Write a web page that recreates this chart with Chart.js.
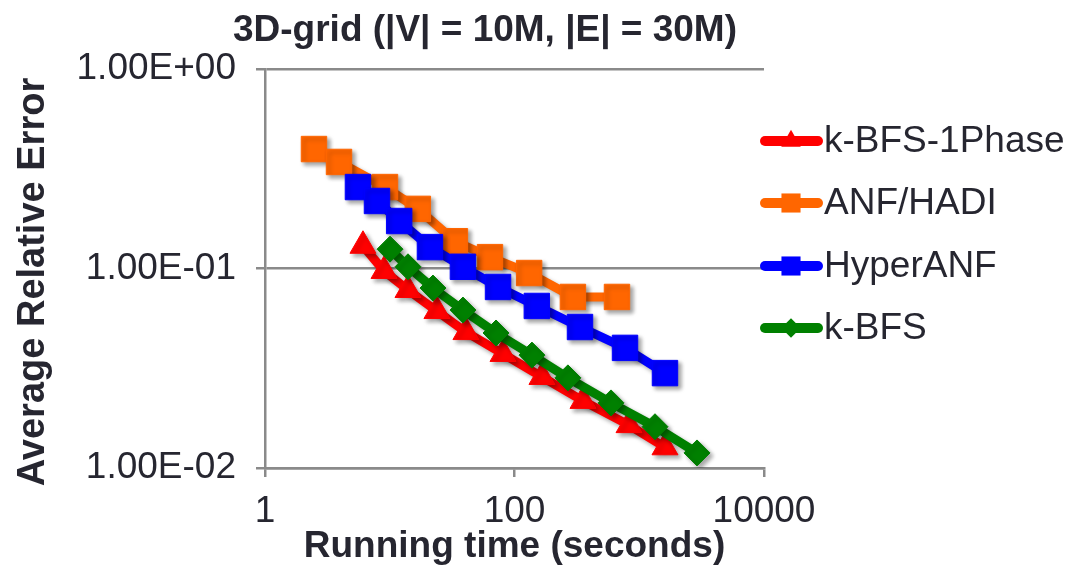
<!DOCTYPE html>
<html>
<head>
<meta charset="utf-8">
<script src="https://cdn.jsdelivr.net/npm/chart.js"></script>
<style>
  body { margin: 0; background: #fff; }
</style>
</head>
<body>
<canvas id="chart" width="1069" height="570"></canvas>
<script>
// values (x = seconds, y = average relative error)
const seriesNames = ['k-BFS-1Phase', 'ANF/HADI', 'HyperANF', 'k-BFS'];

const kbfs1PhaseTime = [6.1, 9.0, 14.0, 23.9, 40.8, 80.9, 166, 354, 828, 1608];
const kbfs1PhaseErr = [0.130, 0.0972, 0.078, 0.0612, 0.048, 0.0373, 0.0286, 0.0217, 0.0164, 0.0127];

const anfTime = [2.47, 3.92, 9.16, 16.8, 33.3, 63.6, 131, 294, 663];
const anfErr = [0.397, 0.342, 0.256, 0.199, 0.137, 0.114, 0.0949, 0.072, 0.072];

const hyperTime = [5.56, 7.9, 11.9, 21.0, 38.6, 73.8, 151, 335, 769, 1608];
const hyperErr = [0.256, 0.218, 0.173, 0.128, 0.102, 0.0808, 0.0649, 0.0509, 0.040, 0.0299];

const kbfsTime = [10.05, 14.0, 22.2, 38.6, 71.1, 138, 268, 594, 1337, 2904];
const kbfsErr = [0.125, 0.102, 0.0798, 0.0619, 0.0475, 0.0368, 0.0283, 0.0212, 0.0161, 0.0119];

const xTicks = [1, 100, 10000];
const xTickLabels = ['1', '100', '10000'];
const yTicks = [0.01, 0.1, 1];
const yTickLabels = ['1.00E-02', '1.00E-01', '1.00E+00'];

const FONT = '"Liberation Sans", Arial, sans-serif';
const TEXT = '#262630';
const GRID = '#8a8a8a';

const colors = ['#ff0000', '#ff6600', '#0000ff', '#008000'];
const styles = ['triangle', 'rect', 'rect', 'rectRot'];
const radii = [15, 18, 18, 13];

function toPoints(xs, ys) {
  return xs.map((x, i) => ({ x: x, y: ys[i] }));
}

const allData = [
  toPoints(kbfs1PhaseTime, kbfs1PhaseErr),
  toPoints(anfTime, anfErr),
  toPoints(hyperTime, hyperErr),
  toPoints(kbfsTime, kbfsErr),
];

// later series sit on top, like the original
const datasets = allData.map((pts, i) => ({
  label: seriesNames[i],
  data: pts,
  showLine: true,
  borderColor: colors[i],
  backgroundColor: colors[i],
  borderWidth: 9,
  pointStyle: styles[i],
  pointRadius: radii[i],
  pointHoverRadius: radii[i],
  pointBorderWidth: 1,
  order: 4 - i,
}));

// soft drop shadow under lines and markers
const shadowPlugin = {
  id: 'shadow',
  beforeDatasetsDraw(chart) {
    const ctx = chart.ctx;
    ctx.save();
    ctx.shadowColor = 'rgba(0,0,0,0.35)';
    ctx.shadowBlur = 4;
    ctx.shadowOffsetX = 3;
    ctx.shadowOffsetY = 3;
  },
  afterDatasetsDraw(chart) {
    chart.ctx.restore();
  }
};

function drawMarker(ctx, style, x, y, r) {
  ctx.beginPath();
  if (style === 'triangle') {
    const h = r * 1.5;
    const w = r * Math.sqrt(3) / 2;
    ctx.moveTo(x, y - h * 2 / 3);
    ctx.lineTo(x + w, y + h / 3);
    ctx.lineTo(x - w, y + h / 3);
    ctx.closePath();
  } else if (style === 'rectRot') {
    ctx.moveTo(x, y - r);
    ctx.lineTo(x + r, y);
    ctx.lineTo(x, y + r);
    ctx.lineTo(x - r, y);
    ctx.closePath();
  } else {
    const s = r * Math.SQRT1_2;
    ctx.rect(x - s, y - s, 2 * s, 2 * s);
  }
  ctx.fill();
}

// title, y-axis title and legend drawn by hand to sit where the original puts them
const decorPlugin = {
  id: 'decor',
  afterDraw(chart) {
    const ctx = chart.ctx;
    ctx.save();
    ctx.fillStyle = TEXT;
    ctx.font = 'bold 37px ' + FONT;
    ctx.textAlign = 'center';
    ctx.textBaseline = 'middle';
    ctx.fillText('3D-grid (|V| = 10M, |E| = 30M)', 485, 31);

    ctx.save();
    ctx.translate(34, 282);
    ctx.rotate(-Math.PI / 2);
    ctx.font = 'bold 38px ' + FONT;
    ctx.fillText('Average Relative Error', 0, 0);
    ctx.restore();

    const rowY = [141, 203, 266, 328];
    seriesNames.forEach((name, i) => {
      const y = rowY[i];
      ctx.strokeStyle = colors[i];
      ctx.fillStyle = colors[i];
      ctx.lineWidth = 10;
      ctx.lineCap = 'round';
      ctx.beginPath();
      ctx.moveTo(765, y);
      ctx.lineTo(818, y);
      ctx.stroke();
      drawMarker(ctx, styles[i], 791, y, radii[i] * 0.75);
      ctx.fillStyle = TEXT;
      ctx.font = '37px ' + FONT;
      ctx.textAlign = 'left';
      ctx.fillText(name, 824, y + 1);
    });
    ctx.restore();
  }
};

new Chart(document.getElementById('chart'), {
  type: 'scatter',
  data: { datasets: datasets },
  options: {
    responsive: false,
    animation: false,
    layout: { padding: { top: 69, right: 305, bottom: 0, left: 0 } },
    plugins: {
      legend: { display: false },
      title: { display: false },
      tooltip: { enabled: false },
    },
    scales: {
      x: {
        type: 'logarithmic',
        min: 1,
        max: 10000,
        afterBuildTicks(scale) {
          scale.ticks = xTicks.map(v => ({ value: v }));
        },
        afterFit(scale) { scale.height = 102; },
        ticks: {
          color: TEXT,
          font: { family: FONT, size: 37 },
          padding: 13,
          maxRotation: 0,
          autoSkip: false,
          callback: (v) => xTickLabels[xTicks.indexOf(v)],
        },
        grid: {
          drawOnChartArea: false,
          drawTicks: true,
          tickLength: 9,
          color: GRID,
          lineWidth: 2.5,
        },
        border: { display: true, color: GRID, width: 2.5 },
        title: {
          display: true,
          text: 'Running time (seconds)',
          color: TEXT,
          font: { family: FONT, size: 37, weight: 'bold' },
          padding: { top: 0, bottom: 1 },
        },
      },
      y: {
        type: 'logarithmic',
        min: 0.01,
        max: 1,
        afterBuildTicks(scale) {
          scale.ticks = yTicks.map(v => ({ value: v }));
        },
        afterFit(scale) { scale.width = 265; },
        ticks: {
          color: TEXT,
          font: { family: FONT, size: 37 },
          padding: 20,
          autoSkip: false,
          callback: (v) => yTickLabels[yTicks.indexOf(v)],
        },
        grid: {
          drawTicks: true,
          tickLength: 9,
          color: GRID,
          lineWidth: 2.5,
        },
        border: { display: true, color: GRID, width: 2.5 },
      },
    },
  },
  plugins: [shadowPlugin, decorPlugin],
});
</script>
</body>
</html>
